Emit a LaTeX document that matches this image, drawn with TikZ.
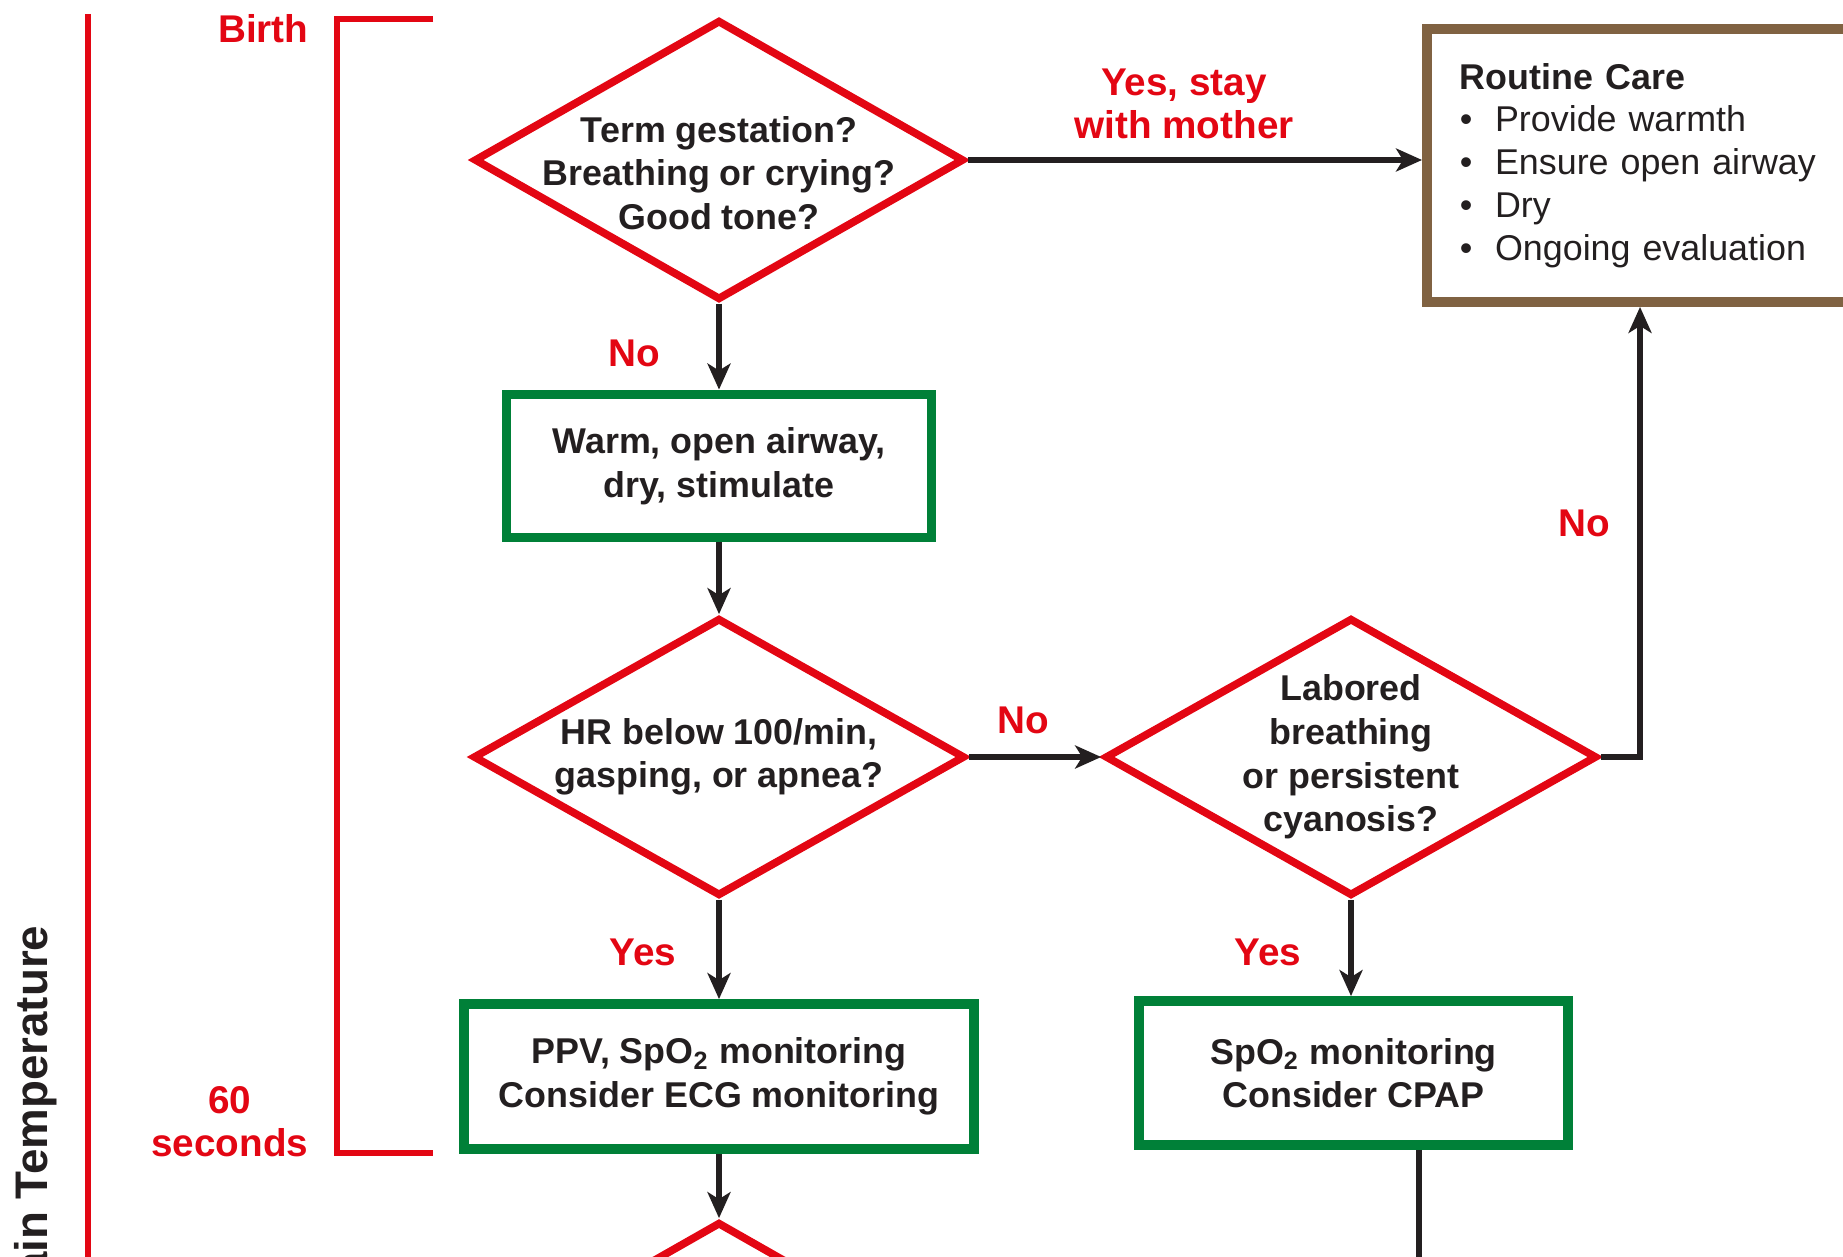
\documentclass[tikz,border=0pt]{standalone}
\usepackage{fontspec}
\setmainfont{Liberation Sans}
\usetikzlibrary{arrows.meta, positioning, calc, shapes.geometric}
\definecolor{nrpred}{RGB}{227,6,19}
\definecolor{nrpgreen}{RGB}{0,128,56}
\definecolor{nrpbrown}{RGB}{128,98,66}
\definecolor{nrpink}{RGB}{35,31,32}
\newcommand{\carebullet}{\makebox[10pt][l]{\textbullet}}

\begin{document}
\begin{tikzpicture}[
    question/.style={diamond, draw=nrpred, line width=2.2pt, inner sep=-5pt, shape aspect=1.75, align=center, text=nrpink, font=\bfseries\fontsize{10.2}{12.4}\selectfont},
    action/.style={draw=nrpgreen, line width=2.8pt, inner sep=0pt, align=center, text=nrpink, font=\bfseries\fontsize{10.2}{12.4}\selectfont},
    tag/.style={text=nrpred, align=center, inner sep=0pt, font=\bfseries\fontsize{11}{12.3}\selectfont},
    flow/.style={-{Stealth[length=2.6mm, width=2.3mm, inset=0.7mm]}, line width=1.5pt, draw=nrpink},
    timeline/.style={draw=nrpred, line width=1.5pt}
]
  \useasboundingbox (0, 0) rectangle (18.43, -12.56);
  \clip (0, 0) rectangle (18.43, -12.56);

  % time scale on the left
  \draw[timeline] (0.88, -0.14) -- (0.88, -12.9);
  \node[rotate=90, anchor=east, inner sep=0pt, text=nrpink, font=\bfseries\fontsize{13}{15}\selectfont] (temp) at (0.36, -9.25) {Maintain Temperature};
  \draw[timeline] (4.33, -0.19) -- (3.37, -0.19) -- (3.37, -11.53) -- (4.33, -11.53);
  \node[tag, anchor=east] (birth) at (3.09, -0.29) {Birth};
  \node[tag, anchor=east] (sixty) at (3.09, -11.22) {60\\seconds};

  % first assessment
  \node[question, inner ysep=-8pt, minimum width=4.9cm, minimum height=2.8cm] (term) at (7.19, -1.60) {\rule{0pt}{14.8pt}Term gestation?\\Breathing or crying?\\Good tone?};
  \node[draw=nrpbrown, line width=2.8pt, anchor=west, minimum height=2.73cm, text width=4.4cm, inner xsep=0.33cm, align=left, text=nrpink, font=\fontsize{10.2}{12.2}\selectfont] (care) at (14.22, -1.655) {\textbf{Routine Care}\\\carebullet Provide warmth\\\carebullet Ensure open airway\\\carebullet Dry\\\carebullet Ongoing evaluation};
  \draw[flow] (term.east) -- (term.east -| care.west);
  \node[tag] (stay) at (11.84, -1.04) {Yes, stay\\with mother};

  \node[action, minimum width=4.25cm, minimum height=1.43cm] (warm) at (7.19, -4.66) {Warm, open airway,\\dry, stimulate};
  \draw[flow] (term.south) -- (warm.north);
  \node[tag] (notterm) at (6.34, -3.53) {No};

  % heart rate and breathing
  \node[question, minimum width=4.92cm, minimum height=2.78cm] (hr) at (7.19, -7.57) {HR below 100/min,\\gasping, or apnea?};
  \node[question, minimum width=4.92cm, minimum height=2.78cm] (labored) at (13.51, -7.57) {Labored\\breathing\\or persistent\\cyanosis?};
  \draw[flow] (warm.south) -- (hr.north);
  \draw[flow] (hr.east) -- (labored.west);
  \node[tag] (nohr) at (10.23, -7.20) {No};
  \coordinate (bend) at (16.40, -7.57);
  \draw[flow] (labored.east) -| (bend |- care.south);
  \node[tag] (nolabored) at (15.84, -5.23) {No};

  \node[action, minimum width=5.10cm, minimum height=1.45cm] (ppv) at (7.19, -10.765) {PPV, SpO\textsubscript{2} monitoring\\Consider ECG monitoring};
  \node[action, minimum width=4.29cm, minimum height=1.44cm] (cpap) at (13.535, -10.73) {SpO\textsubscript{2} monitoring\\Consider CPAP};
  \draw[flow] (hr.south) -- (ppv.north);
  \draw[flow] (labored.south) -- (labored.south |- cpap.north);
  \node[tag] (yeshr) at (6.43, -9.52) {Yes};
  \node[tag] (yeslabored) at (12.68, -9.52) {Yes};

  % continues below
  \node[question, minimum width=4.9cm, minimum height=2.8cm] (next) at (7.19, -13.62) {};
  \draw[flow] (ppv.south) -- (next.north);
  \coordinate (cpapdown) at (14.19, -12.9);
  \draw[line width=1.5pt, draw=nrpink] (cpap.south -| cpapdown) -- (cpapdown);
\end{tikzpicture}
\end{document}
